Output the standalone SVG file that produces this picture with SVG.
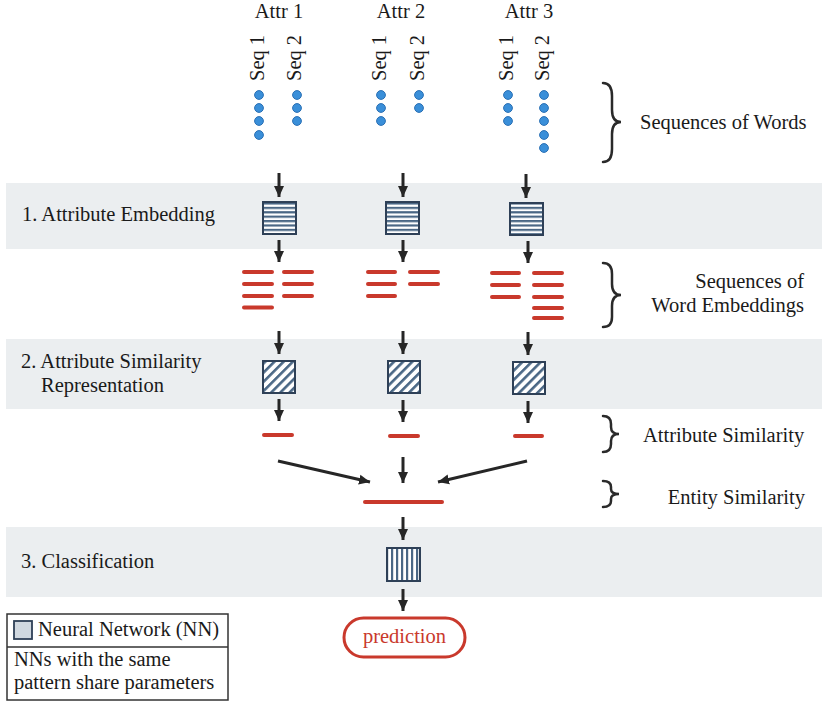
<svg xmlns="http://www.w3.org/2000/svg" width="829" height="706" viewBox="0 0 829 706">
<style>
text{font-family:"Liberation Serif","DejaVu Serif",serif;font-size:20.5px;fill:#1a1a1a}
.band{fill:#ebeef0}
.dot{fill:#3a8fd9;stroke:#2a70b5;stroke-width:1}
.red{stroke:#c9392c;stroke-width:4;stroke-linecap:round;fill:none}
.arr{stroke:#262626;stroke-width:3;fill:none;marker-end:url(#ah)}
.brace{stroke:#2a2a2a;stroke-width:2.5;fill:none;stroke-linecap:round}
.nn{stroke:#2e4057;stroke-width:2}
</style>
<defs>
<marker id="ah" markerUnits="userSpaceOnUse" markerWidth="12" markerHeight="12" viewBox="0 0 12 12" refX="11" refY="6" orient="auto">
<path d="M0,1 L11,6 L0,11 Z" fill="#262626"/>
</marker>
<pattern id="hs" patternUnits="userSpaceOnUse" width="10" height="4.4">
<rect width="10" height="4.4" fill="#fff"/>
<rect width="10" height="2.2" fill="#4a6785"/>
</pattern>
<pattern id="ds" patternUnits="userSpaceOnUse" width="6.5" height="10" patternTransform="rotate(45)">
<rect width="6.5" height="10" fill="#fff"/>
<rect width="2.6" height="10" fill="#4a6785"/>
</pattern>
<pattern id="vs" patternUnits="userSpaceOnUse" width="5" height="10" x="1">
<rect width="5" height="10" fill="#fff"/>
<rect width="2.2" height="10" fill="#4a6785"/>
</pattern>
</defs>

<g id="bands">
<rect class="band" x="6" y="183" width="816" height="66"/>
<rect class="band" x="6" y="339" width="816" height="70"/>
<rect class="band" x="6" y="527" width="816" height="70"/>
</g>

<g id="attr-labels">
<text x="279" y="18" text-anchor="middle">Attr 1</text>
<text x="401" y="18" text-anchor="middle">Attr 2</text>
<text x="529" y="18" text-anchor="middle">Attr 3</text>
</g>

<g id="seq-labels">
<text transform="translate(264,81) rotate(-90)">Seq 1</text>
<text transform="translate(301,81) rotate(-90)">Seq 2</text>
<text transform="translate(386,81) rotate(-90)">Seq 1</text>
<text transform="translate(424,81) rotate(-90)">Seq 2</text>
<text transform="translate(513,81) rotate(-90)">Seq 1</text>
<text transform="translate(549,81) rotate(-90)">Seq 2</text>
</g>

<g id="words">
<circle class="dot" cx="259" cy="95" r="4.4"/><circle class="dot" cx="259" cy="108" r="4.4"/><circle class="dot" cx="259" cy="121" r="4.4"/><circle class="dot" cx="259" cy="135" r="4.4"/>
<circle class="dot" cx="297" cy="95" r="4.4"/><circle class="dot" cx="297" cy="108" r="4.4"/><circle class="dot" cx="297" cy="121" r="4.4"/>
<circle class="dot" cx="381" cy="95" r="4.4"/><circle class="dot" cx="381" cy="108" r="4.4"/><circle class="dot" cx="381" cy="121" r="4.4"/>
<circle class="dot" cx="419" cy="95" r="4.4"/><circle class="dot" cx="419" cy="108" r="4.4"/>
<circle class="dot" cx="508" cy="95" r="4.4"/><circle class="dot" cx="508" cy="108" r="4.4"/><circle class="dot" cx="508" cy="121" r="4.4"/>
<circle class="dot" cx="544" cy="95" r="4.4"/><circle class="dot" cx="544" cy="108" r="4.4"/><circle class="dot" cx="544" cy="121" r="4.4"/><circle class="dot" cx="544" cy="135" r="4.4"/><circle class="dot" cx="544" cy="148" r="4.4"/>
</g>

<g id="step-labels">
<text x="22" y="221">1. Attribute Embedding</text>
<text x="21" y="368">2. Attribute Similarity</text>
<text x="41" y="392">Representation</text>
<text x="21" y="568">3. Classification</text>
</g>

<g id="nn-embed">
<rect class="nn" x="263" y="202" width="33" height="32" fill="url(#hs)"/>
<rect class="nn" x="386" y="202" width="33" height="32" fill="url(#hs)"/>
<rect class="nn" x="510" y="203" width="33" height="32" fill="url(#hs)"/>
</g>

<g id="word-embeddings">
<path class="red" d="M244,272H272M244,284H272M244,296H272M244,307.5H272M284,272H312M284,284H312M284,296H312"/>
<path class="red" d="M368,272H395M368,284H395M368,296H395M410,272H438M410,284H438"/>
<path class="red" d="M492,273H519M492,285H519M492,297H519M534,273H562M534,285H562M534,297H562M534,308H562M534,318H562"/>
</g>

<g id="nn-sim">
<rect class="nn" x="263" y="361" width="32" height="32" fill="url(#ds)"/>
<rect class="nn" x="388" y="361" width="32" height="32" fill="url(#ds)"/>
<rect class="nn" x="513" y="362" width="32" height="32" fill="url(#ds)"/>
</g>

<g id="attribute-similarity">
<path class="red" d="M264,435H292M390,436H418M515,436H542"/>
</g>

<g id="entity-similarity">
<path class="red" d="M365,502H442"/>
</g>

<g id="nn-class">
<rect class="nn" x="387" y="548" width="33" height="33" fill="url(#vs)"/>
</g>

<g id="prediction">
<rect x="344" y="618" width="121" height="39" rx="19.5" fill="#fff" stroke="#c9392c" stroke-width="3"/>
<text x="404.5" y="643" text-anchor="middle" style="fill:#c9392c">prediction</text>
</g>

<g id="right-labels">
<path class="brace" d="M603,83 Q612,83 612,96 L612,110 Q612,122 621,122 Q612,122 612,134 L612,149 Q612,162 603,162"/>
<text x="640" y="129">Sequences of Words</text>
<path class="brace" d="M603,263 Q612,263 612,274 L612,284 Q612,295 621,295 Q612,295 612,306 L612,317 Q612,327 603,327"/>
<text x="804" y="288" text-anchor="end">Sequences of</text>
<text x="804" y="312" text-anchor="end">Word Embeddings</text>
<path class="brace" d="M603,416 Q611,416 611,424 L611,427 Q611,434 619,434 Q611,434 611,441 L611,444 Q611,452 603,452"/>
<text x="643" y="442">Attribute Similarity</text>
<path class="brace" d="M603,481 Q611,481 611,487 L611,489 Q611,494 619,494 Q611,494 611,499 L611,501 Q611,507 603,507"/>
<text x="805" y="504" text-anchor="end">Entity Similarity</text>
</g>

<g id="connectors">
<line class="arr" x1="279" y1="173" x2="279" y2="197"/>
<line class="arr" x1="403" y1="173" x2="403" y2="197"/>
<line class="arr" x1="526" y1="174" x2="526" y2="198"/>
<line class="arr" x1="279" y1="240" x2="279" y2="262"/>
<line class="arr" x1="403" y1="240" x2="403" y2="262"/>
<line class="arr" x1="528" y1="241" x2="528" y2="263"/>
<line class="arr" x1="279" y1="331" x2="279" y2="354"/>
<line class="arr" x1="403" y1="331" x2="403" y2="354"/>
<line class="arr" x1="528" y1="332" x2="528" y2="355"/>
<line class="arr" x1="279" y1="399" x2="279" y2="421"/>
<line class="arr" x1="403" y1="400" x2="403" y2="422"/>
<line class="arr" x1="528" y1="401" x2="528" y2="423"/>
<line class="arr" x1="278" y1="461" x2="370" y2="482"/>
<line class="arr" x1="403" y1="457" x2="403" y2="483"/>
<line class="arr" x1="527" y1="461" x2="438" y2="482"/>
<line class="arr" x1="403" y1="517" x2="403" y2="540"/>
<line class="arr" x1="403" y1="589" x2="403" y2="611"/>
</g>

<g id="legend">
<rect x="7" y="614" width="221" height="86" fill="#fff" stroke="#333" stroke-width="1.5"/>
<line x1="7" y1="647" x2="228" y2="647" stroke="#333" stroke-width="1.5"/>
<rect x="14" y="621" width="18" height="18" fill="#d0d8e0" stroke="#2e4057" stroke-width="1.8"/>
<text x="38" y="636">Neural Network (NN)</text>
<text x="14" y="666">NNs with the same</text>
<text x="14" y="689">pattern share parameters</text>
</g>
</svg>
